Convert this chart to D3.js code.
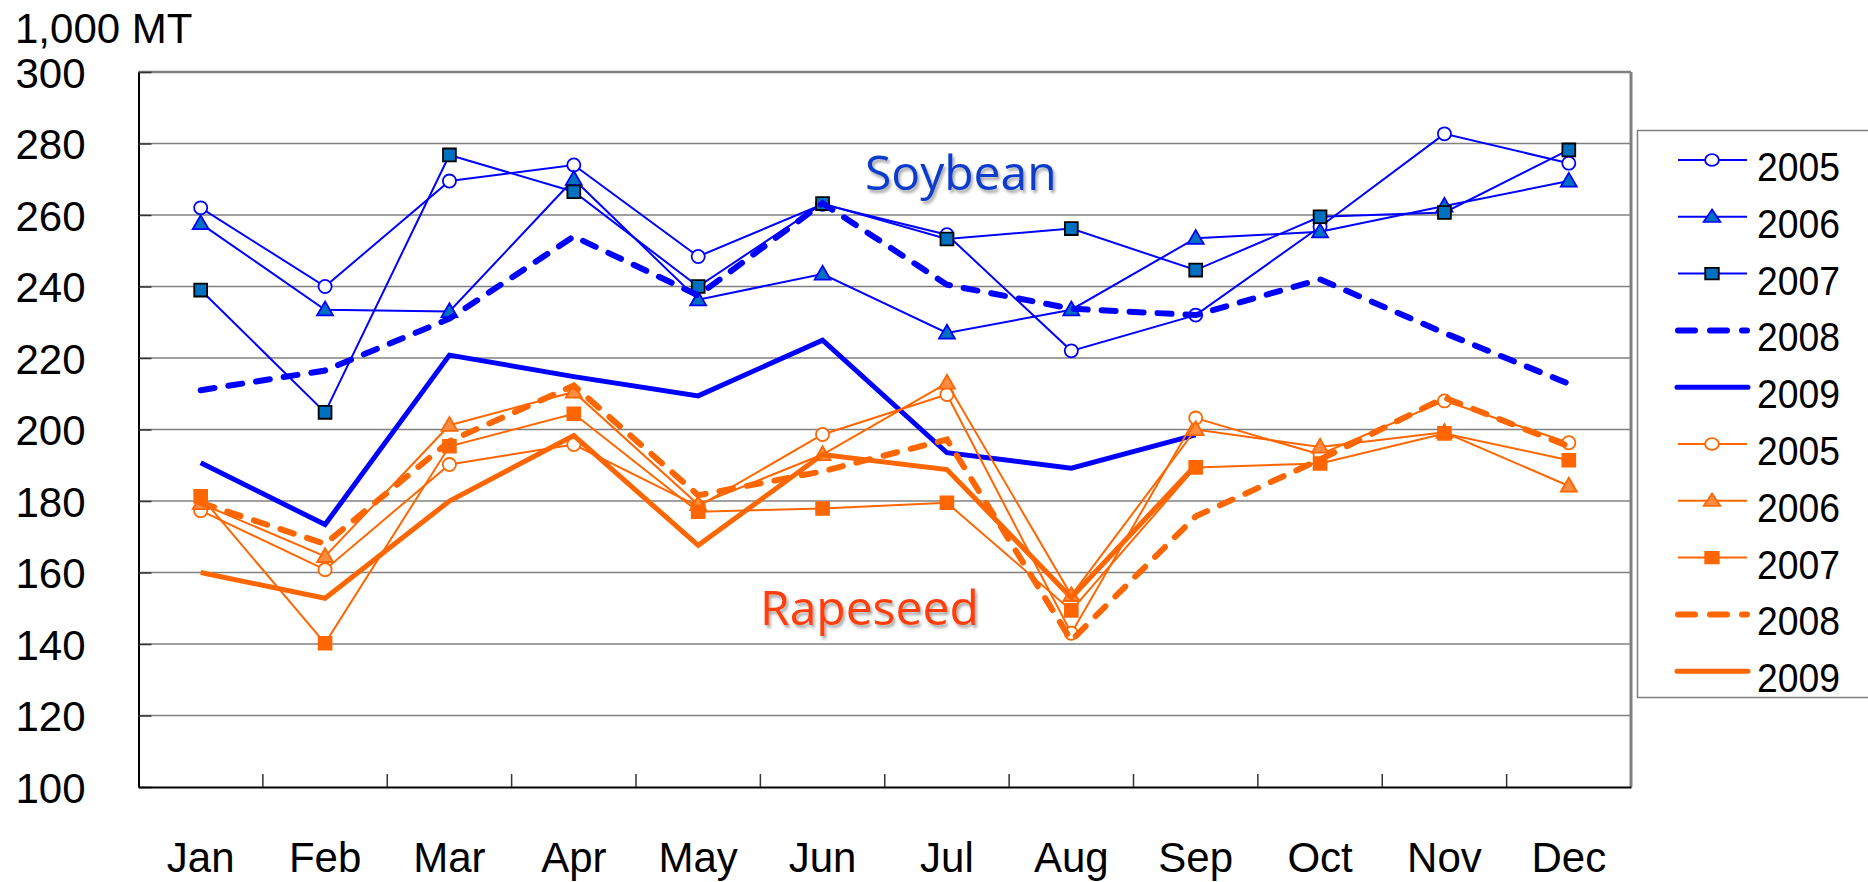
<!DOCTYPE html>
<html>
<head>
<meta charset="utf-8">
<script src="https://cdn.jsdelivr.net/npm/d3@7"></script>
<style>
  body { margin: 0; background: #fff; }
  svg { display: block; font-family: "Liberation Sans", Arial, sans-serif; }
</style>
</head>
<body>
<div id="chart"></div>
<script>
// data
const months = ["Jan", "Feb", "Mar", "Apr", "May", "Jun", "Jul", "Aug", "Sep", "Oct", "Nov", "Dec"];
const yTicks = [100, 120, 140, 160, 180, 200, 220, 240, 260, 280, 300];
const years = ["2005", "2006", "2007", "2008", "2009"];

const soy2005 = [262, 240, 269.5, 274, 248.4, 263, 254.5, 222, 232, 256.7, 282.7, 274.5];
const soy2006 = [257.6, 233.5, 233, 270, 236.3, 243.5, 227, 233.5, 253.5, 255.3, 262.5, 269.5];
const soy2007 = [239, 204.8, 276.8, 266.5, 240, 263.2, 253.3, 256.2, 244.6, 259.5, 260.7, 278.2];
const soy2008 = [211, 216.5, 231, 254, 237.5, 263.3, 240.5, 233.8, 232, 242, 227, 212.8];
const soy2009 = [190.7, 173.4, 220.8, 214.8, 209.4, 225, 193.5, 189.2, 198.5, null, null, null];

const rape2005 = [177.3, 160.8, 190.2, 195.8, 178.5, 198.6, 209.8, 143, 203.2, 193, 208, 196.3];
const rape2006 = [179.3, 164.5, 201.2, 210.5, 179, 193, 213, 153.6, 200, 195.1, 199.2, 184.2];
const rape2007 = [181.3, 140.2, 195.3, 204.4, 177, 177.9, 179.5, 149.4, 189.4, 190.5, 198.9, 191.4];
const rape2008 = [179.5, 168, 196.7, 212.3, 181.6, 188.3, 197.2, 141, 175.7, 191.6, 208.9, 195.3];
const rape2009 = [160, 152.8, 180, 198.3, 167.6, 193, 188.8, 153, 190, null, null, null];

const blue = "#0000ff", blueFill = "#0070c0";
const orange = "#ff6600", orangeLight = "#ff8c40";

// series styles
const series = [
  { name: years[0], values: soy2005, color: blue, width: 2, marker: "circle", fill: "#fff", mstroke: blue },
  { name: years[1], values: soy2006, color: blue, width: 2, marker: "triangle", fill: blueFill, mstroke: blue },
  { name: years[2], values: soy2007, color: blue, width: 2, marker: "square", fill: blueFill, mstroke: "#000" },
  { name: years[3], values: soy2008, color: blue, width: 6, dash: "14 14" },
  { name: years[4], values: soy2009, color: blue, width: 5 },
  { name: years[0], values: rape2005, color: orange, width: 2, marker: "circle", fill: "#fff", mstroke: orange },
  { name: years[1], values: rape2006, color: orange, width: 2, marker: "triangle", fill: orangeLight, mstroke: orange },
  { name: years[2], values: rape2007, color: orange, width: 2, marker: "square", fill: orange, mstroke: orange },
  { name: years[3], values: rape2008, color: orange, width: 6, dash: "14 14" },
  { name: years[4], values: rape2009, color: orange, width: 5 }
];

const W = 1868, H = 882;
const plotLeft = 138.5, plotRight = 1631, plotTop = 72, plotBottom = 787;

const svg = d3.select("#chart").append("svg")
  .attr("width", W)
  .attr("height", H);

const defs = svg.append("defs");
const shadow = defs.append("filter").attr("id", "shadow")
  .attr("x", "-10%").attr("y", "-20%").attr("width", "130%").attr("height", "150%");
shadow.append("feDropShadow")
  .attr("dx", 2).attr("dy", 3).attr("stdDeviation", 1.5)
  .attr("flood-color", "#000").attr("flood-opacity", 0.35);

// scales
const x = d3.scaleBand().domain(months).range([plotLeft, plotRight]);
const y = d3.scaleLinear().domain([100, 300]).range([plotBottom, plotTop]);
const cx = m => x(m) + x.bandwidth() / 2;

// gridlines
svg.append("g")
  .selectAll("line")
  .data(yTicks.filter(t => t > 100 && t < 300))
  .enter()
  .append("line")
  .attr("x1", plotLeft).attr("x2", plotRight)
  .attr("y1", d => y(d)).attr("y2", d => y(d))
  .attr("stroke", "#808080")
  .attr("stroke-width", 1.5);

// plot frame (top + right)
svg.append("line").attr("x1", plotLeft).attr("x2", plotRight).attr("y1", plotTop).attr("y2", plotTop)
  .attr("stroke", "#808080").attr("stroke-width", 2.5);
svg.append("line").attr("x1", plotRight).attr("x2", plotRight).attr("y1", plotTop).attr("y2", plotBottom)
  .attr("stroke", "#808080").attr("stroke-width", 3);

// Y axis
const yAxis = d3.axisLeft(y)
  .tickValues(yTicks)
  .tickSizeInner(-13)
  .tickSizeOuter(0)
  .tickPadding(53);

const gy = svg.append("g")
  .attr("transform", "translate(" + plotLeft + ",0)")
  .call(yAxis);
gy.select(".domain").attr("stroke", "#000").attr("stroke-width", 2);
gy.selectAll(".tick line").attr("stroke", "#333").attr("stroke-width", 1.5);
gy.selectAll(".tick text")
  .attr("font-size", 42)
  .attr("font-family", "Liberation Sans, Arial, sans-serif")
  .attr("fill", "#000")
  .attr("dy", "0.36em");

// X axis (labels only), boundary ticks drawn separately
const xAxis = d3.axisBottom(x)
  .tickSize(0)
  .tickPadding(55);

const gx = svg.append("g")
  .attr("transform", "translate(0," + plotBottom + ")")
  .call(xAxis);
gx.select(".domain").attr("stroke", "#000").attr("stroke-width", 2);
gx.selectAll(".tick text")
  .attr("font-size", 42)
  .attr("font-family", "Liberation Sans, Arial, sans-serif")
  .attr("fill", "#000");

svg.append("g")
  .selectAll("line")
  .data(months.slice(1))
  .enter()
  .append("line")
  .attr("x1", d => x(d)).attr("x2", d => x(d))
  .attr("y1", plotBottom).attr("y2", plotBottom - 13)
  .attr("stroke", "#333")
  .attr("stroke-width", 1.5);

// unit label
svg.append("text")
  .attr("x", 15)
  .attr("y", 43)
  .attr("font-size", 42)
  .attr("fill", "#000")
  .text("1,000 MT");

// markers
function symbolFor(type) {
  if (type === "circle") return d3.symbol().type(d3.symbolCircle).size(135)();
  if (type === "triangle") return d3.symbol().type(d3.symbolTriangle).size(110)();
  return d3.symbol().type(d3.symbolSquare).size(165)();
}

const line = d3.line()
  .defined(d => d.v != null)
  .x(d => cx(d.m))
  .y(d => y(d.v));

series.forEach(function (s) {
  const pts = months.map((m, i) => ({ m: m, v: s.values[i] }));
  svg.append("path")
    .datum(pts)
    .attr("fill", "none")
    .attr("stroke", s.color)
    .attr("stroke-width", s.width)
    .attr("stroke-dasharray", s.dash || null)
    .attr("stroke-linecap", s.dash ? "round" : "butt")
    .attr("stroke-linejoin", "miter")
    .attr("d", line);

  if (s.marker) {
    svg.append("g")
      .selectAll("path")
      .data(pts.filter(d => d.v != null))
      .enter()
      .append("path")
      .attr("transform", d => "translate(" + cx(d.m) + "," + (y(d.v) + (s.marker === "triangle" ? 1 : 0)) + ")")
      .attr("d", symbolFor(s.marker))
      .attr("fill", s.fill)
      .attr("stroke", s.mstroke)
      .attr("stroke-width", 1.8);
  }
});

// series group labels
svg.append("text")
  .attr("x", 865)
  .attr("y", 190)
  .attr("font-family", "Open Sans, sans-serif")
  .attr("font-size", 48)
  .attr("fill", "#0a3acb")
  .attr("filter", "url(#shadow)")
  .text("Soybean");

svg.append("text")
  .attr("x", 760)
  .attr("y", 625)
  .attr("font-family", "Open Sans, sans-serif")
  .attr("font-size", 48)
  .attr("fill", "#ff3c0a")
  .attr("filter", "url(#shadow)")
  .text("Rapeseed");

// legend
const legend = svg.append("g");
legend.append("rect")
  .attr("x", 1637.5).attr("y", 130.5)
  .attr("width", 260).attr("height", 567)
  .attr("fill", "#fff")
  .attr("stroke", "#808080")
  .attr("stroke-width", 1.5);

const rowY = i => 160 + i * 56.8;

series.forEach(function (s, i) {
  const g = legend.append("g").attr("transform", "translate(0," + rowY(i) + ")");
  if (s.dash) {
    g.append("line")
      .attr("x1", 1678).attr("x2", 1747).attr("y1", 0).attr("y2", 0)
      .attr("stroke", s.color).attr("stroke-width", s.width)
      .attr("stroke-dasharray", "17 15").attr("stroke-linecap", "round");
  } else {
    g.append("line")
      .attr("x1", s.width > 3 ? 1677 : 1678).attr("x2", s.width > 3 ? 1748 : 1747)
      .attr("y1", 0).attr("y2", 0)
      .attr("stroke", s.color).attr("stroke-width", s.width)
      .attr("stroke-linecap", s.width > 3 ? "round" : "butt");
  }
  if (s.marker) {
    g.append("path")
      .attr("transform", "translate(1712," + (s.marker === "triangle" ? 1 : 0) + ") scale(1.05,0.9)")
      .attr("d", symbolFor(s.marker))
      .attr("fill", s.fill)
      .attr("stroke", s.mstroke)
      .attr("stroke-width", 1.8);
  }
  g.append("text")
    .attr("x", 1757)
    .attr("y", 21)
    .attr("font-size", 40)
    .attr("textLength", 83)
    .attr("lengthAdjust", "spacingAndGlyphs")
    .attr("fill", "#000")
    .text(s.name);
});
</script>
</body>
</html>
